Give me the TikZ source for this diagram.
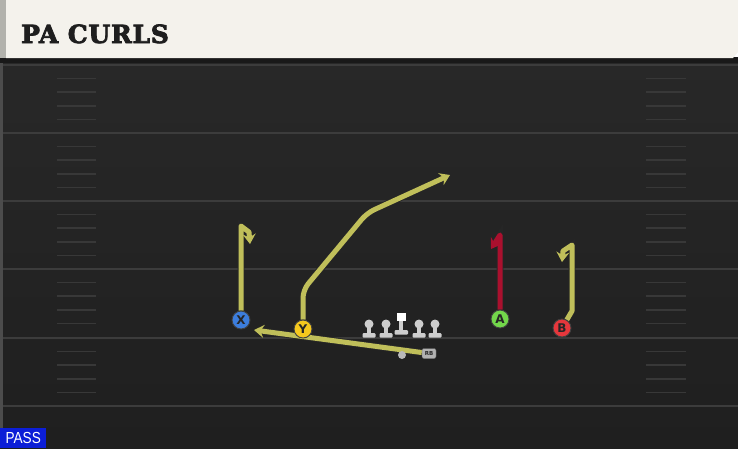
\documentclass[tikz,border=0pt]{standalone}
\usepackage{fontspec}
\setsansfont{DejaVu Sans}
\newfontfamily\titlefont[BoldFeatures={FakeBold=3}, LetterSpace=3]{DejaVu Serif}
\newfontfamily\passfont{Liberation Sans}
\usetikzlibrary{arrows.meta}
\pgfdeclarelayer{back}
\pgfdeclarelayer{routes}
\pgfsetlayers{back,routes,main}
\definecolor{headcream}{RGB}{244,242,236}
\definecolor{headedge}{RGB}{178,178,172}
\definecolor{turftop}{RGB}{40,40,40}
\definecolor{turfbot}{RGB}{31,31,31}
\definecolor{yardline}{RGB}{60,60,60}
\definecolor{hashgray}{RGB}{56,56,56}
\definecolor{routeyellow}{RGB}{192,191,90}
\definecolor{routered}{RGB}{170,16,46}
\definecolor{xblue}{RGB}{60,125,220}
\definecolor{yyellow}{RGB}{245,200,30}
\definecolor{agreen}{RGB}{115,215,75}
\definecolor{bred}{RGB}{230,55,60}
\definecolor{passblue}{RGB}{12,30,215}
\definecolor{titleink}{RGB}{30,30,30}
\definecolor{linemangray}{RGB}{205,205,205}
\tikzset{
  player/.style={circle, draw=black!75, line width=0.9pt, minimum size=18pt, inner sep=0pt,
    font=\sffamily\bfseries\fontsize{12}{12}\selectfont, text=black!85},
  route/.style={line width=5pt, draw=routeyellow, line join=round,
    -{Stealth[length=10pt,width=13pt,inset=3.5pt]},
    preaction={draw=black!85, line width=6.8pt}},
  yard/.style={draw=yardline, line width=2pt},
  hashmark/.style={draw=hashgray, line width=1.6pt},
  lineman/.style={fill=linemangray}
}
\begin{document}
\begin{tikzpicture}[x=1pt,y=-1pt]
\useasboundingbox (0,0) rectangle (738,448);
\begin{pgfonlayer}{back}
\shade[top color=turftop, bottom color=turfbot] (0,58) rectangle (738,448);
\fill[black!70] (0,58) rectangle (3,448);
\fill[black!90] (0,57) rectangle (738,63);
\fill[headedge] (0,0) rectangle (6,58);
\fill[headcream] (6,0) -- (738,0) -- (738,52) -- (733,58) -- (6,58) -- cycle;
\foreach \yl in {65,133,201,269,338,406}
  \draw[yard] (3,\yl) -- (738,\yl);
\foreach \yl in {65,133,201,269,338}
  \foreach \k in {1,...,4}{
    \draw[hashmark] (57,\yl+13.6*\k) -- (96,\yl+13.6*\k);
    \draw[hashmark] (646,\yl+13.6*\k) -- (686,\yl+13.6*\k);
  }
\end{pgfonlayer}

\node[anchor=base west, inner sep=0pt, text=titleink,
  font=\titlefont\bfseries\fontsize{25}{25}\selectfont] (title) at (21,43) {PA CURLS};

\foreach \lx in {369,386,419,435}{
  \fill[lineman] (\lx,324) circle (4.5);
  \fill[lineman] (\lx-2,324) rectangle (\lx+2,334);
  \fill[lineman, rounded corners=1pt] (\lx-6.5,333) rectangle (\lx+6.5,337.5);
}
\fill[white] (397,313) rectangle (405.5,321);
\fill[lineman] (399.2,321) rectangle (403.3,331);
\fill[lineman, rounded corners=1pt] (394.5,330) rectangle (408,334.5);

\node[player, fill=xblue] (X) at (241,320) {X};
\node[player, fill=yyellow] (Y) at (303,329) {Y};
\node[player, fill=agreen] (A) at (500,319) {A};
\node[player, fill=bred] (B) at (562,328) {B};
\node[circle, fill=gray!55, minimum size=8pt, inner sep=0pt] (qb) at (402,355) {};
\node[rounded corners=2pt, fill=gray!60, draw=black!60, line width=0.4pt, minimum width=14pt,
  minimum height=10pt, inner sep=0pt, text=black!85,
  font=\sffamily\bfseries\fontsize{5.5}{5.5}\selectfont] (RB) at (429,353.5) {RB};

\begin{pgfonlayer}{routes}
\draw[route] (X) -- (241,226) -- (249,232) -- (250,244);
\draw[route, rounded corners=8pt] (Y) -- (303,290) -- (367,213) -- (450,175);
\draw[route, draw=routered] (A) -- (500,235) -- (491,249);
\draw[route] (B) -- (572,311) -- (572,245) -- (563,251) -- (562,262);
\draw[route] (RB) -- (254,330);
\end{pgfonlayer}

\node[fill=passblue, anchor=south west, minimum width=46pt, minimum height=20pt, inner sep=0pt,
  text=white, font=\passfont\fontsize{16}{16}\selectfont] (pass) at (0,448) {\scalebox{0.85}[1]{PASS}};
\end{tikzpicture}
\end{document}
